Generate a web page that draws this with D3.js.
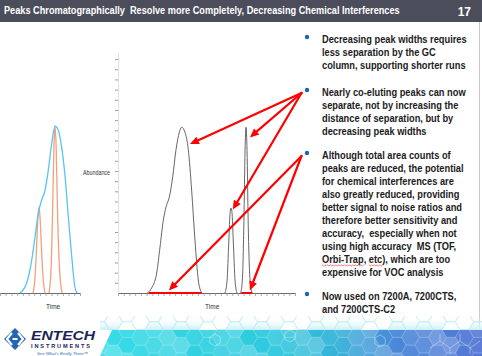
<!DOCTYPE html>
<html><head><meta charset="utf-8">
<script src="https://cdn.jsdelivr.net/npm/d3@7"></script>
<style>body{margin:0;background:#fff;overflow:hidden}svg{display:block}text{white-space:pre}</style>
</head><body>
<svg id="c" width="482" height="356"></svg>
<script>
// ---------------- DATA ----------------
const titleText = "Peaks Chromatographically  Resolve more Completely, Decreasing Chemical Interferences";
const slideNo = "17";
const axisLabelY = "Abundance";
const axisLabelX = "Time";

// left chart: wide envelope (blue) and its two component peaks (orange) — [time units, abundance units]
const envTime  = [3.5, 4.67, 5.55, 6.13, 6.71, 7.3, 7.88, 8.46, 9.05, 9.63, 10.2, 10.8, 11.4, 11.96, 12.56, 13.1, 13.5];
const envAbund = [0, 0.98, 3.24, 5.5, 7.87, 9.15, 10.1, 12.1, 14.7, 16.4, 16.0, 14.3, 11.4, 7.47, 3.54, 0.59, 0];
const compATime  = [5.78, 6.13, 6.4, 6.65, 6.83, 7.0, 7.25, 7.53, 7.88];
const compAAbund = [0, 1.5, 4.5, 7.5, 8.46, 7.5, 4.5, 1.5, 0];
const compBTime  = [8.58, 8.95, 9.2, 9.45, 9.63, 9.82, 10.07, 10.4, 10.86];
const compBAbund = [0, 2.5, 8, 14.5, 16.4, 14.5, 8, 2.5, 0];

// middle chart: broad peak and the two narrow resolved peaks (gray)
const broadTime  = [5.13, 5.9, 6.78, 7.36, 7.94, 8.41, 8.99, 9.58, 10.16, 10.74, 11.15, 11.73, 12.31, 12.9, 13.48, 14.06, 14.66];
const broadAbund = [0, 0.5, 1.97, 4.52, 7.18, 8.46, 9.44, 11.4, 14.1, 15.8, 16.3, 15.8, 14.1, 10.1, 5.21, 1.28, 0];
const narrowATime  = [18.74, 19.1, 19.4, 19.65, 19.8, 19.95, 20.2, 20.5, 20.84];
const narrowAAbund = [0, 1.2, 5, 8.0, 8.36, 8.0, 5, 1.2, 0];
const narrowBTime  = [21.5, 21.8, 22.05, 22.25, 22.42, 22.6, 22.8, 23.1, 23.47];
const narrowBAbund = [0, 1.5, 7, 14, 16.3, 14, 7, 1.5, 0];

// red base-width markers on the middle chart
const widthStart = [5.4, 21.6];
const widthEnd   = [14.6, 23.5];

// red arrows: bullet they come from, and target (time, abundance) in middle chart
const arrowBullet = [1, 1, 1, 2, 2];
const arrowTime   = [12.6, 23.1, 20.1, 8.9, 23.1];
const arrowAbund  = [14.65, 15.3, 8.2, 0.25, 0.25];

// bullets
const bullet1 = ["Decreasing peak widths requires", "less separation by the GC", "column, supporting shorter runs"];
const bullet2 = ["Nearly co-eluting peaks can now", "separate, not by increasing the", "distance of separation, but by", "decreasing peak widths"];
const bullet3 = ["Although total area counts of", "peaks are reduced, the potential", "for chemical interferences are", "also greatly reduced, providing", "better signal to noise ratios and", "therefore better sensitivity and", "accuracy,  especially when not", "using high accuracy  MS (TOF,", "Orbi-Trap, etc), which are too", "expensive for VOC analysis"];
const bullet4 = ["Now used on 7200A, 7200CTS,", "and 7200CTS-C2"];
const bullets = [bullet1, bullet2, bullet3, bullet4];

const logoName = "ENTECH";
const logoSub = "INSTRUMENTS";
const logoTag = "See What\u2019s Really There\u2122";

// ---------------- LAYOUT ----------------
const W = 482, H = 356;
const FONT = "'Liberation Sans', Arial, sans-serif";
const svg = d3.select("#c");
const defs = svg.append("defs");

// header
svg.append("rect").attr("width", W).attr("height", 22).attr("fill", "#4b4d5b");
const tgT = svg.append("g").attr("transform", "translate(4,0)");
const tInner = tgT.append("g");
const tt = tInner.append("text").attr("x", 0).attr("y", 14.5).attr("fill", "#fff")
  .attr("font-family", FONT).attr("font-weight", "bold").attr("font-size", 10).text(titleText);
tInner.attr("transform", `scale(${396 / tt.node().getComputedTextLength()},1)`);
svg.append("text").attr("x", 471).attr("y", 15.5).attr("text-anchor", "end").attr("fill", "#fff")
  .attr("font-family", FONT).attr("font-weight", "bold").attr("font-size", 12).text(slideNo);

// right slide edge
svg.append("line").attr("x1", 479.5).attr("x2", 479.5).attr("y1", 22).attr("y2", 330)
  .attr("stroke", "#c9c9c9").attr("stroke-width", 1);

// scales
const y = d3.scaleLinear().domain([0, 23.6]).range([293, 53]);
const xL = d3.scaleLinear().domain([0, 14]).range([0, 80]);
const xM = d3.scaleLinear().domain([0, 31]).range([118, 295]);

function styleAxis(g, domainColor, tickColor) {
  g.select(".domain").attr("stroke", domainColor).attr("stroke-width", 0.8);
  g.selectAll(".tick line").attr("stroke", tickColor).attr("stroke-width", 0.7);
}
// left x axis
svg.append("g").attr("transform", `translate(0,${y(0)})`)
  .call(d3.axisBottom(xL).tickValues(d3.range(0, 15)).tickSize(3).tickSizeOuter(0).tickFormat(""))
  .call(g => styleAxis(g, "#444", "#888"));
// middle x axis
svg.append("g").attr("transform", `translate(0,${y(0)})`)
  .call(d3.axisBottom(xM).tickValues(d3.range(0, 32)).tickSize(3).tickSizeOuter(0).tickFormat(""))
  .call(g => styleAxis(g, "#444", "#888"));
// middle y axis
svg.append("g").attr("transform", `translate(${xM(0)},0)`)
  .call(d3.axisLeft(y).tickValues(d3.range(1, 24)).tickSize(3).tickSizeOuter(0).tickFormat(""))
  .call(g => styleAxis(g, "#d8d8d8", "#777"));

// axis labels
function smallLabel(x, yy, txt, anchor) {
  return svg.append("text").attr("x", x).attr("y", yy).attr("text-anchor", anchor)
    .attr("font-family", FONT).attr("font-size", 6.5).attr("fill", "#333").text(txt);
}
smallLabel(110, 175, axisLabelY, "end").attr("textLength", 27).attr("lengthAdjust", "spacingAndGlyphs");
smallLabel(xL(9.3), 309, axisLabelX, "middle");
smallLabel(xM(16.5), 309, axisLabelX, "middle");

// curves
const zip = (a, b) => a.map((v, i) => [v, b[i]]);
const lineL = d3.line().x(d => xL(d[0])).y(d => y(d[1])).curve(d3.curveMonotoneX);
const lineM = d3.line().x(d => xM(d[0])).y(d => y(d[1])).curve(d3.curveMonotoneX);

[[compATime, compAAbund], [compBTime, compBAbund]].forEach(([t, a]) =>
  svg.append("path").attr("d", lineL(zip(t, a))).attr("fill", "none").attr("stroke", "#f4a07e").attr("stroke-width", 1.3));
svg.append("path").attr("d", lineL(zip(envTime, envAbund))).attr("fill", "none").attr("stroke", "#55c6ef").attr("stroke-width", 1.3);

[[broadTime, broadAbund], [narrowATime, narrowAAbund], [narrowBTime, narrowBAbund]].forEach(([t, a]) =>
  svg.append("path").attr("d", lineM(zip(t, a))).attr("fill", "none").attr("stroke", "#555").attr("stroke-width", 0.9));

// width markers
widthStart.forEach((s, i) =>
  svg.append("line").attr("x1", xM(s)).attr("x2", xM(widthEnd[i])).attr("y1", y(0)).attr("y2", y(0))
    .attr("stroke", "#ff0000").attr("stroke-width", 2));

// bullets
const firstBase = [43.5, 96.5, 159.5, 300.5];
const gap = 12.9, dotX = 307, textX = 322;
const tg = svg.append("g").attr("transform", `translate(${textX},0)`);
const tgi = tg.append("g");
const lineNodes = [];
bullets.forEach((lines, i) => {
  svg.append("circle").attr("cx", dotX).attr("cy", firstBase[i] - 6.5).attr("r", 2.2).attr("fill", "#1f62ad");
  lineNodes.push(lines.map((s, j) => tgi.append("text").attr("x", 0).attr("y", firstBase[i] + j * gap)
    .attr("font-family", FONT).attr("font-weight", "bold").attr("font-size", 10).attr("fill", "#1b1b1b")
    .text(s).node()));
});
const kx = 145 / lineNodes[0][0].getComputedTextLength();
tgi.attr("transform", `scale(${kx},1)`);
// spell-check squiggles under "Orbi-Trap" and "etc"
(function () {
  const n = lineNodes[2][8];
  const yb = firstBase[2] + 8 * gap + 2.2;
  [[0, 9], [11, 3]].forEach(([s, c]) => {
    const x0 = s === 0 ? 0 : n.getSubStringLength(0, s);
    const w = n.getSubStringLength(s, c);
    let d = `M${x0},${yb}`;
    for (let x = x0, k = 0; x < x0 + w; x += 1.5, k++) d += `L${x + 1.5},${yb + (k % 2 ? 0 : 1)}`;
    tgi.append("path").attr("d", d).attr("fill", "none").attr("stroke", "#e02020").attr("stroke-width", 0.6);
  });
})();

// arrows
function arrow(x1, y1, x2, y2) {
  const dx = x2 - x1, dy = y2 - y1, len = Math.hypot(dx, dy), ux = dx / len, uy = dy / len;
  const hl = 9, hw = 4;
  const bx = x2 - ux * hl, by = y2 - uy * hl;
  svg.append("line").attr("x1", x1).attr("y1", y1).attr("x2", bx + ux).attr("y2", by + uy)
    .attr("stroke", "#ff0000").attr("stroke-width", 2.2).attr("stroke-linecap", "round");
  svg.append("path").attr("d", `M${x2},${y2}L${bx - uy * hw},${by + ux * hw}L${bx + uy * hw},${by - ux * hw}Z`)
    .attr("fill", "#ff0000");
}
arrowBullet.forEach((b, i) => arrow(dotX - 5.5, firstBase[b] - 3.5, xM(arrowTime[i]), y(arrowAbund[i])));

// ---------------- footer banner ----------------
const gH = defs.append("linearGradient").attr("id", "gh").attr("x1", 0).attr("x2", 1).attr("y1", 0).attr("y2", 0);
[[0, "#2cdbe6"], [0.45, "#22c6dc"], [0.62, "#2aaed6"], [0.78, "#3f80d6"], [1, "#4b6fd2"]]
  .forEach(([o, c]) => gH.append("stop").attr("offset", o).attr("stop-color", c));
const gV = defs.append("linearGradient").attr("id", "gv").attr("x1", 0).attr("x2", 0).attr("y1", 0).attr("y2", 1);
[[0, "#ffffff", 0], [1, "#c9f1f5", 1]].forEach(([o, c, op]) =>
  gV.append("stop").attr("offset", o).attr("stop-color", c).attr("stop-opacity", op));
defs.append("clipPath").attr("id", "bandClip").append("path").attr("d", "M100,356L112,330L482,330L482,356Z");
defs.append("clipPath").attr("id", "fadeClip").append("rect").attr("x", 100).attr("y", 316).attr("width", 382).attr("height", 14);

svg.append("rect").attr("x", 100).attr("y", 316).attr("width", 382).attr("height", 14).attr("fill", "url(#gv)");
svg.append("path").attr("d", "M100,356L112,330L482,330L482,356Z").attr("fill", "url(#gh)");

const hexR = 9;
const hexPath = d3.range(6).map(k => [hexR * Math.cos(k * Math.PI / 3), hexR * Math.sin(k * Math.PI / 3)]);
const hexD = "M" + hexPath.map(p => p.join(",")).join("L") + "Z";
const hb = svg.append("g").attr("clip-path", "url(#bandClip)");
const hf = svg.append("g").attr("clip-path", "url(#fadeClip)");
const shades = [0.06, 0.16, 0.26, 0.1, 0.2];
for (let i = 0; i < 30; i++) {
  for (let j = 0; j < 5; j++) {
    const cx = 100 + i * 13.5, cy = 314 + j * 15.6 + (i % 2 ? 7.8 : 0);
    hb.append("path").attr("d", hexD).attr("transform", `translate(${cx},${cy})`)
      .attr("fill", "#ffffff").attr("fill-opacity", shades[(i * 3 + j * 2) % 5])
      .attr("stroke", "#ffffff").attr("stroke-opacity", 0.25).attr("stroke-width", 0.6);
    hf.append("path").attr("d", hexD).attr("transform", `translate(${cx},${cy})`)
      .attr("fill", "#ffffff").attr("fill-opacity", (i + j) % 3 === 0 ? 0.8 : 0)
      .attr("stroke", "#b9e9ee").attr("stroke-width", 0.6);
  }
}
// faint molecule sketches
const mol = svg.append("g").attr("fill", "none").attr("stroke", "#ffffff").attr("stroke-opacity", 0.55).attr("stroke-width", 0.7);
[[215, 340], [290, 336], [380, 341]].forEach(([cx, cy]) => {
  mol.append("path").attr("d", d3.range(7).map((k, n) => (n ? "L" : "M") + (cx + 6 * Math.cos(k * Math.PI / 3 + Math.PI / 6)) + "," + (cy + 6 * Math.sin(k * Math.PI / 3 + Math.PI / 6))).join(""));
});
mol.append("path").attr("d", "M430,348L440,341L450,348L460,341L470,348L480,341M440,341L440,334M460,341L460,334M450,348L450,354M470,348L470,354");

// ---------------- logo ----------------
const logo = svg.append("g");
logo.append("path").attr("d", "M15,328L26,339L15,350L4,339Z").attr("fill", "#2466b5");
logo.append("path").attr("d", "M12,333L7,339L12,345M18,333L23,339L18,345M12.5,339L17.5,339")
  .attr("fill", "none").attr("stroke", "#fff").attr("stroke-width", 2.2);
logo.append("text").attr("x", 31).attr("y", 340).attr("font-family", FONT).attr("font-size", 13)
  .attr("font-weight", "900").attr("font-style", "italic").attr("fill", "#1b2452")
  .attr("textLength", 64).attr("lengthAdjust", "spacingAndGlyphs").text(logoName);
logo.append("text").attr("x", 31).attr("y", 347.5).attr("font-family", FONT).attr("font-size", 5.6)
  .attr("font-weight", "bold").attr("fill", "#1b2452")
  .attr("textLength", 59).attr("lengthAdjust", "spacing").text(logoSub);
logo.append("text").attr("x", 37).attr("y", 354.5).attr("font-family", FONT).attr("font-size", 4.4)
  .attr("font-style", "italic").attr("fill", "#2466b5")
  .attr("textLength", 51).attr("lengthAdjust", "spacingAndGlyphs").text(logoTag);
</script>
</body></html>
